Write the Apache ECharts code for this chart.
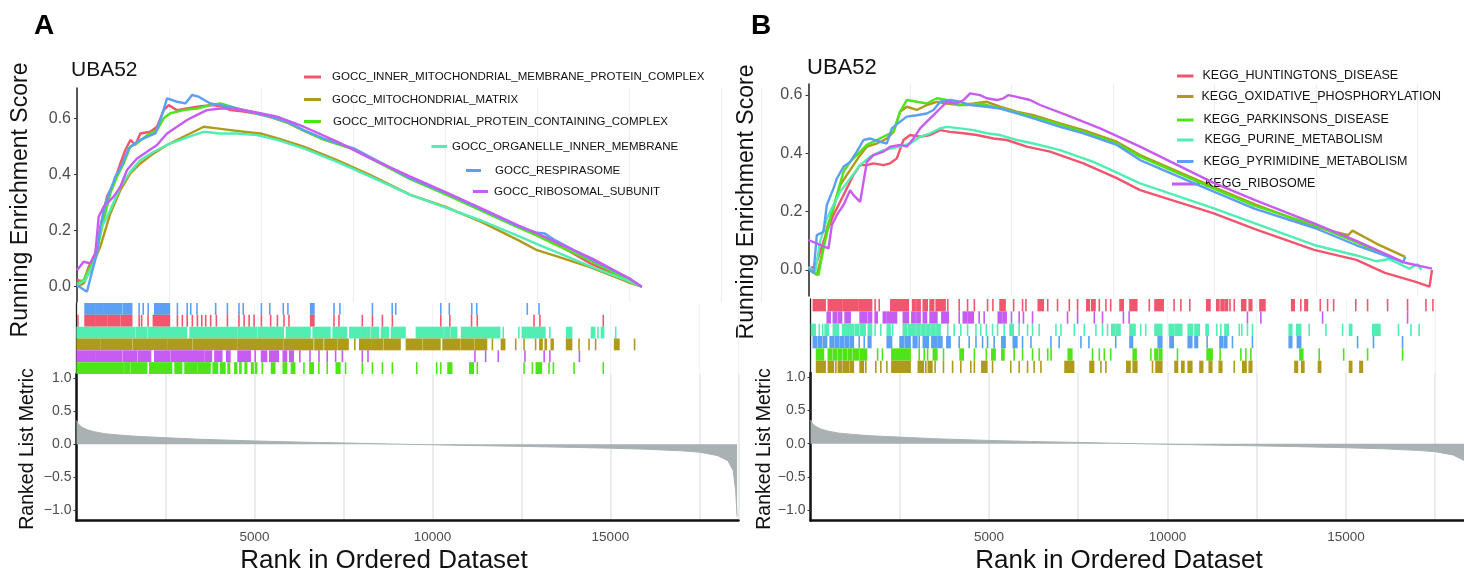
<!DOCTYPE html>
<html><head><meta charset="utf-8">
<script src="https://cdn.jsdelivr.net/npm/echarts@6.0.0/dist/echarts.min.js"></script>
<style>html,body{margin:0;padding:0;background:#fff}#c{width:1464px;height:574px}</style>
</head><body><div id="c"></div>
<script>
// ---------------- DATA ----------------
const geneCount = 18600;
const xTickValues = [5000, 10000, 15000];
const esTickValues = [0, 0.2, 0.4, 0.6];
const metricTickValues = [-1, -0.5, 0, 0.5, 1];

const namesA = ['GOCC_INNER_MITOCHONDRIAL_MEMBRANE_PROTEIN_COMPLEX','GOCC_MITOCHONDRIAL_MATRIX','GOCC_MITOCHONDRIAL_PROTEIN_CONTAINING_COMPLEX','GOCC_ORGANELLE_INNER_MEMBRANE','GOCC_RESPIRASOME','GOCC_RIBOSOMAL_SUBUNIT'];
const namesB = ['KEGG_HUNTINGTONS_DISEASE','KEGG_OXIDATIVE_PHOSPHORYLATION','KEGG_PARKINSONS_DISEASE','KEGG_PURINE_METABOLISM','KEGG_PYRIMIDINE_METABOLISM','KEGG_RIBOSOME'];

// running enrichment score, panel A
const esA_inner = [[0,0.024],[181,0.018],[317,0.071],[498,0.119],[680,0.238],[815,0.321],[996,0.368],[1178,0.439],[1314,0.487],[1450,0.523],[1586,0.505],[1721,0.546],[1993,0.552],[2174,0.570],[2356,0.629],[2491,0.647],[2718,0.629],[2990,0.635],[3262,0.641],[3624,0.647],[3896,0.644],[4168,0.629],[4530,0.624],[4892,0.616],[5255,0.604],[5708,0.585],[6161,0.556],[6704,0.525],[7520,0.490],[9060,0.384],[10000,0.332],[11000,0.272],[12000,0.212],[12500,0.185],[13000,0.155],[13937,0.084],[14500,0.05],[15000,0.025],[15346,0.0]];
const esA_matrix = [[0,0],[181,0.012],[362,0.059],[634,0.143],[906,0.261],[1178,0.344],[1450,0.404],[1721,0.439],[2084,0.475],[2446,0.505],[2809,0.529],[3171,0.552],[3443,0.570],[3805,0.564],[4168,0.558],[4530,0.552],[4983,0.546],[5436,0.529],[6161,0.499],[7067,0.451],[7973,0.398],[9060,0.327],[10000,0.285],[11000,0.23],[12000,0.165],[12500,0.13],[13000,0.11],[13937,0.07],[15000,0.015],[15346,0.0]];
const esA_protein = [[0,0.012],[181,0.024],[362,0.071],[544,0.131],[725,0.238],[906,0.333],[1087,0.392],[1268,0.439],[1450,0.499],[1631,0.511],[1903,0.540],[2174,0.558],[2356,0.600],[2537,0.618],[2899,0.629],[3262,0.635],[3624,0.647],[3896,0.653],[4349,0.635],[4892,0.618],[5255,0.605],[5708,0.586],[6161,0.556],[6704,0.524],[7520,0.489],[9060,0.383],[10000,0.33],[11000,0.27],[12000,0.21],[12500,0.182],[13000,0.15],[14000,0.09],[15000,0.022],[15346,0.0]];
const esA_organelle = [[0,0.006],[226,0.024],[453,0.083],[634,0.202],[906,0.273],[1178,0.356],[1450,0.410],[1721,0.451],[2084,0.481],[2446,0.505],[2809,0.523],[3171,0.540],[3443,0.552],[3896,0.546],[4349,0.546],[4892,0.540],[5436,0.523],[6161,0.493],[7067,0.445],[7973,0.392],[9060,0.327],[10000,0.283],[11000,0.235],[12000,0.18],[12500,0.152],[13000,0.125],[14000,0.07],[15000,0.02],[15346,0.0]];
const esA_respirasome = [[0,0.005],[270,-0.018],[408,0.053],[544,0.119],[634,0.214],[770,0.297],[906,0.344],[1042,0.392],[1223,0.433],[1404,0.493],[1631,0.517],[1903,0.534],[2129,0.546],[2265,0.594],[2446,0.671],[2718,0.659],[2945,0.653],[3126,0.683],[3307,0.677],[3624,0.653],[3896,0.647],[4168,0.641],[4530,0.629],[4892,0.618],[5255,0.606],[5708,0.588],[6161,0.558],[6704,0.528],[7520,0.493],[9060,0.386],[10000,0.335],[11000,0.275],[12000,0.215],[12500,0.192],[12700,0.19],[13000,0.165],[14000,0.095],[15000,0.03],[15346,0.0]];
const esA_ribosomal = [[0,0.059],[181,0.089],[362,0.083],[498,0.119],[589,0.249],[725,0.285],[996,0.321],[1178,0.356],[1359,0.416],[1631,0.457],[1903,0.481],[2174,0.505],[2446,0.546],[2718,0.570],[2990,0.594],[3262,0.612],[3533,0.629],[3896,0.635],[4258,0.635],[4621,0.627],[4983,0.618],[5436,0.606],[6161,0.570],[7067,0.517],[7973,0.457],[9060,0.392],[10000,0.338],[11000,0.278],[12000,0.218],[12500,0.19],[13000,0.16],[14000,0.1],[15000,0.03],[15346,0.0]];

// running enrichment score, panel B
const esB_huntington = [[0,0.006],[164,0.011],[287,0.063],[451,0.131],[616,0.189],[780,0.234],[944,0.28],[1108,0.326],[1273,0.36],[1437,0.36],[1601,0.366],[1847,0.36],[2012,0.366],[2176,0.383],[2340,0.446],[2504,0.463],[2750,0.457],[2996,0.463],[3243,0.48],[3489,0.474],[3818,0.469],[4146,0.463],[4557,0.451],[4885,0.446],[5377,0.423],[5952,0.406],[6773,0.366],[7594,0.315],[8169,0.274],[9968,0.195],[11000,0.14],[12455,0.069],[13500,0.035],[14200,-0.01],[14940,-0.04],[15300,-0.057],[15360,0.0]];
const esB_oxphos = [[0,0.006],[205,-0.017],[328,0.051],[451,0.143],[616,0.211],[780,0.291],[944,0.326],[1108,0.36],[1273,0.394],[1437,0.423],[1683,0.434],[1929,0.451],[2094,0.474],[2258,0.543],[2422,0.56],[2668,0.549],[2914,0.566],[3161,0.577],[3407,0.571],[3736,0.566],[4064,0.571],[4392,0.577],[4721,0.56],[5131,0.543],[5542,0.531],[6199,0.503],[6773,0.48],[7594,0.44],[8169,0.394],[9968,0.285],[11000,0.225],[12455,0.15],[13000,0.13],[13300,0.12],[13400,0.135],[14000,0.09],[14700,0.045]];
const esB_parkinson = [[0,0.006],[246,-0.017],[369,0.074],[534,0.177],[698,0.257],[862,0.337],[1026,0.371],[1190,0.394],[1437,0.429],[1683,0.446],[1929,0.463],[2094,0.474],[2258,0.543],[2422,0.583],[2668,0.577],[2914,0.571],[3161,0.589],[3407,0.583],[3653,0.566],[3900,0.566],[4228,0.571],[4557,0.56],[4885,0.549],[5377,0.531],[5952,0.509],[6773,0.474],[7594,0.434],[8169,0.389],[9968,0.28],[11000,0.22],[12455,0.155],[13500,0.095],[14400,0.04]];
const esB_purine = [[0,0.011],[164,-0.006],[287,0.097],[451,0.177],[616,0.223],[780,0.269],[1026,0.314],[1273,0.36],[1519,0.389],[1847,0.411],[2258,0.423],[2504,0.434],[2750,0.457],[2996,0.469],[3243,0.486],[3407,0.491],[3736,0.486],[4064,0.48],[4392,0.469],[4721,0.463],[5131,0.446],[5542,0.434],[6199,0.411],[7020,0.371],[8169,0.297],[9968,0.212],[11000,0.16],[12455,0.086],[13500,0.05],[14000,0.03],[14300,0.038],[14800,0.005],[15000,0.02],[15100,0.0]];
const esB_pyrimidine = [[0,0.006],[123,-0.011],[205,0.12],[369,0.131],[451,0.223],[616,0.28],[698,0.314],[862,0.354],[1026,0.371],[1190,0.406],[1355,0.446],[1519,0.451],[1765,0.44],[1929,0.434],[2053,0.486],[2258,0.509],[2422,0.526],[2668,0.531],[2914,0.537],[3079,0.549],[3243,0.577],[3489,0.583],[3736,0.577],[3982,0.566],[4392,0.56],[4721,0.554],[5131,0.537],[5542,0.52],[6199,0.491],[6773,0.469],[7594,0.429],[8169,0.377],[9968,0.27],[11000,0.21],[12455,0.145],[13500,0.085],[14500,0.035],[14650,0.025],[14700,0.045]];
const esB_ribosome = [[0,0.103],[493,0.074],[575,0.154],[698,0.189],[862,0.223],[1026,0.274],[1108,0.257],[1273,0.234],[1437,0.371],[1601,0.394],[1847,0.406],[2012,0.423],[2258,0.429],[2422,0.423],[2586,0.451],[2750,0.486],[2914,0.509],[3079,0.531],[3243,0.554],[3407,0.577],[3653,0.571],[3818,0.583],[3982,0.606],[4228,0.6],[4392,0.589],[4639,0.583],[4803,0.589],[4926,0.6],[5131,0.594],[5459,0.583],[5706,0.566],[6363,0.531],[7184,0.486],[8169,0.423],[9968,0.30],[11000,0.24],[12455,0.16],[13500,0.1],[14700,0.025],[15360,0.005]];

// hit positions (single ranks or [first,last] runs of dense hits), panel A
const hitsA_respirasome = [[240,520],[550,740],[770,930],[960,1100],[1130,1270],[1320,1550],1760,1875,2015,[2200,2610],2835,3110,3210,3385,3910,4240,4565,4685,5195,5430,5810,5940,[6580,6670],7235,7400,8315,8870,8970,10235,10475,11105,11245,12665,12995];
const hitsA_inner = [40,[240,520],[550,850],[890,1220],[1270,1550],1760,1830,2010,[2160,2610],2835,2975,3110,3255,3397,3520,3630,3770,3930,4240,4565,4710,4850,4990,5195,5455,5645,5830,5970,[6580,6670],7235,7375,8030,8315,8595,8875,10235,10490,11100,11260,12855,13020,14800];
const hitsA_organelle = [[20,1640],[1690,1970],[2020,3090],[3190,4500],[4540,5060],[5110,5810],[5900,6560],[6650,7120],[7210,7590],[7680,7960],[7990,8240],[8290,8480],[8570,8760],[8850,9230],[9550,10300],[10350,10490],[10540,10680],[10820,11430],[11470,11570],[11610,11710],[11750,11890],11990,12430,[12530,13160],13300,[13770,13910],[14470,14560],14650,[14750,14810],15150];
const hitsA_matrix = [[20,650],[690,1550],[1600,2530],[2570,3230],[3280,4500],[4540,5800],[5850,6640],[6700,6920],[6980,7300],[7350,7630],7820,[7960,8260],[8300,8600],[8650,9090],[9270,9700],[9750,10210],[10300,10770],[10820,11150],[11200,11520],11685,[11940,12030],12340,12575,12900,[13020,13080],[13170,13200],[13340,13390],[13770,13910],14120,14400,14585,[15120,15240],15680];
const hitsA_ribosomal = [[20,520],[550,1270],[1320,1690],[1740,2080],[2200,2610],[2660,3560],[3610,3790],[3890,4080],[4220,4310],[4540,4880],5020,[5200,5340],[5430,5530],[5570,5670],[5810,5900],[5990,6090],6275,6560,6813,7045,7280,7470,8030,8190,11195,11495,11850,12600,13140,13300,14130];
const hitsA_protein = [[20,1310],[1360,1500],[1550,1970],[2060,2670],[2770,2950],[3050,3380],[3420,3750],[3840,3960],[4050,4170],[4260,4300],[4450,4500],[4590,4620],[4740,4780],[4920,4960],[5030,5060],5220,[5480,5570],[5810,5900],[6040,6130],6390,[6560,6650],6810,7045,[7300,7400],7560,8030,8315,8595,8875,9560,10120,10235,[10440,10540],[11050,11150],11260,12575,12810,[12920,13060],13275,13400,13980,14800];

// hit positions, panel B
const hitsB_huntington = [[80,410],[500,880],[920,1330],[1370,1710],1810,1925,[2250,2740],[2860,2930],[2980,3070],[3160,3270],[3350,3450],[3520,3770],3845,4165,4400,4590,4960,5110,[5310,5450],5690,5940,6035,[6380,6520],6645,6920,7250,7480,[7740,7810],[7880,7970],8090,8275,8410,[8670,8760],[8950,9140],9490,[9650,9880],10185,10375,10625,[11100,11190],[11380,11440],[11500,11560],[11610,11680],11750,11870,[12080,12190],[12290,12360],[12590,12730],[13480,13550],13735,[13850,13920],14280,14485,14655,15275,15605,16165,16725,17240,17435];
const hitsB_ribosome = [[470,550],[640,730],[780,870],[970,1110],[1390,1570],[1620,1710],[1810,1870],[2040,2110],[2150,2410],[2600,2740],[2840,2930],[2980,3070],[3160,3250],[3350,3540],[3680,3860],4165,[4280,4380],[4420,4560],4725,4865,[5260,5360],[5400,5480],5630,5845,5965,6220,7200,7480,7950,8180,8765,8925,12240,12615,14345,16725];
const hitsB_purine = [[30,130],245,340,[410,500],[640,780],[900,970],[1010,1200],[1250,1340],[1390,1530],[1620,1710],1810,1970,[2150,2230],2300,[2600,2690],[2740,2930],[2980,3070],[3120,3210],[3260,3350],[3400,3490],[3540,3630],3845,4025,4210,4400,4635,4770,4925,5100,5240,5425,[5590,5680],5845,6080,6220,6405,6875,7015,7390,7670,7995,8180,8320,[8440,8530],[8580,8670],[8950,9090],9250,9390,[9650,9840],[10050,10160],[10210,10400],[10580,10700],[10770,10890],[11080,11140],11380,11495,[11610,11700],12010,12080,12240,12380,[13410,13480],[13620,13730],13970,14440,14905,[15100,15160],[15750,15860],[15880,15950],16470,16820,17050];
const hitsB_pyrimidine = [[80,170],[220,310],[360,450],[550,640],[690,780],[830,920],[970,1060],[1110,1200],1365,1505,[1620,1690],[2150,2270],[2510,2600],[2650,2790],[2880,2980],3045,[3160,3300],[3400,3540],[3580,3680],[3820,3910],4165,4445,4635,4820,4960,5145,[5360,5450],[5680,5780],5940,6175,6735,6965,7575,7800,8550,[8950,9020],[9740,9840],[10070,10160],[10580,10680],[10770,10840],11110,[11470,11540],[11590,11660],11820,12380,[13410,13480],[13640,13730],15325,15770,16585];
const hitsB_parkinson = [[170,360],[500,590],[640,730],[780,870],[920,1010],[1060,1150],[1200,1340],[1390,1570],1880,2015,[2280,2790],3045,3186,3280,[3440,3540],3725,[4190,4280],4590,4925,[5080,5170],[5360,5420],5705,5940,6220,6405,6645,6740,[7220,7320],7900,8090,8230,8410,[9040,9120],9535,[9650,9715],[9770,9840],10280,[11110,11170],[11190,11250],11475,12055,12195,12335,[13710,13790],14250,14935,15605,16585];
const hitsB_oxphos = [[170,410],[500,640],710,[780,870],[920,1060],[1110,1200],[1390,1480],1550,1830,1970,2140,[2280,2790],[3020,3160],3230,[3300,3400],3490,3725,3980,4210,4490,4590,[4800,4940],5100,5610,5845,6080,6265,6455,[7130,7370],[7830,7930],8135,8275,[8860,8950],[9040,9140],9580,[9680,9740],[9770,9840],[10210,10280],[10400,10460],[10580,10680],[10910,10985],[11170,11240],[11450,11520],11870,[12110,12200],[12290,12360],[13570,13640],[13760,13820],[14230,14290],[15100,15160],[15390,15460]];

// ranked list metric (same gene ranking in both panels)
const metricRank  = [0,50,150,300,500,800,1200,1700,2500,3500,5000,6500,7500,8500,9200,10000,11000,12500,14000,15000,16000,17000,17500,18000,18300,18450,18520,18560];
const metricValue = [0.36,0.31,0.26,0.22,0.19,0.16,0.14,0.12,0.10,0.075,0.05,0.03,0.02,0.008,0,-0.008,-0.018,-0.032,-0.048,-0.06,-0.075,-0.1,-0.12,-0.17,-0.25,-0.4,-0.7,-1.1];

// ---------------- CHART ----------------
const FONT = '"Liberation Sans", Arial, Helvetica, sans-serif';
const RED='#F2566E', OLIVE='#B09A1E', GREEN='#4FE31A', CYAN='#52EDB3', BLUE='#5BA0F2', PURPLE='#C75CF2';
const colorsSet = [RED, OLIVE, GREEN, CYAN, BLUE, PURPLE];
const esA = [esA_inner, esA_matrix, esA_protein, esA_organelle, esA_respirasome, esA_ribosomal];
const esB = [esB_huntington, esB_oxphos, esB_parkinson, esB_purine, esB_pyrimidine, esB_ribosome];
const rugA = [
  {hits:hitsA_respirasome, color:BLUE},{hits:hitsA_inner, color:RED},{hits:hitsA_organelle, color:CYAN},
  {hits:hitsA_matrix, color:OLIVE},{hits:hitsA_ribosomal, color:PURPLE},{hits:hitsA_protein, color:GREEN}];
const rugB = [
  {hits:hitsB_huntington, color:RED},{hits:hitsB_ribosome, color:PURPLE},{hits:hitsB_purine, color:CYAN},
  {hits:hitsB_pyrimidine, color:BLUE},{hits:hitsB_parkinson, color:GREEN},{hits:hitsB_oxphos, color:OLIVE}];
const metricData = metricRank.map((r,i)=>[r, metricValue[i]]);

function esSeries(list, names, xi, yi){
  return list.map((d,i)=>({type:'line', name:names[i], xAxisIndex:xi, yAxisIndex:yi, data:d,
    showSymbol:false, symbol:'none', z:2+i, lineStyle:{width:2.4, color:colorsSet[i]}, itemStyle:{color:colorsSet[i]}}));
}
function rugSeries(rows, xi, yi){
  const data=[];
  rows.forEach((r,i)=>r.hits.forEach(h=>{const a=Array.isArray(h)?h:[h,h]; data.push([i,a[0],a[1]]);}));
  return {type:'custom', xAxisIndex:xi, yAxisIndex:yi, silent:true, clip:true, encode:{x:[1,2], y:0}, data,
    renderItem(params, api){
      const row=api.value(0);
      const s=api.coord([api.value(1), row]);
      const e=api.coord([api.value(2), row]);
      const h=api.size([0,1])[1];
      return {type:'rect', shape:{x:s[0]-0.8, y:s[1]-h/2, width:Math.max(e[0]-s[0],0)+1.6, height:h},
        style:{fill:rows[row].color}};
    }};
}
function metricSeries(xi, yi){
  return {type:'line', xAxisIndex:xi, yAxisIndex:yi, data:metricData, showSymbol:false, symbol:'none',
    lineStyle:{width:1, color:'#A9B1B3'}, areaStyle:{color:'#A9B1B3', opacity:1}, silent:true};
}
function topX(gi){ return {gridIndex:gi, type:'value', min:0, max:geneCount, interval:2500,
  axisLine:{show:false, onZero:false}, axisTick:{show:false}, axisLabel:{show:false},
  splitLine:{show:true, lineStyle:{color:'#EDF0F1', width:1.3}}}; }
function rugX(gi){ const o=topX(gi); o.splitLine={show:true, lineStyle:{color:'#F1F3F4', width:1.3}}; return o; }
function rankX(gi){ return {gridIndex:gi, type:'value', min:0, max:geneCount, interval:2500,
  axisLine:{show:true, onZero:false, lineStyle:{color:'#111', width:2.5}}, axisTick:{show:false},
  axisLabel:{color:'#4d4d4d', fontSize:13.5, fontFamily:FONT, margin:10,
    formatter:v=>xTickValues.indexOf(v)>=0?String(v):''},
  splitLine:{show:true, lineStyle:{color:'#E3E7E8', width:1.5}}}; }
function esY(gi, min, max){ return {gridIndex:gi, type:'value', min, max,
  axisLine:{show:true, onZero:false, lineStyle:{color:'#222', width:1.5}},
  axisTick:{show:true, length:3, customValues:esTickValues, lineStyle:{color:'#333'}},
  axisLabel:{customValues:esTickValues, formatter:v=>v.toFixed(1), color:'#4d4d4d', fontSize:16, fontFamily:FONT, margin:6},
  splitLine:{show:false}}; }
function rugY(gi){ return {gridIndex:gi, type:'category', inverse:true, data:['0','1','2','3','4','5'],
  axisLine:{show:true, onZero:false, lineStyle:{color:'#222', width:1.3}}, axisTick:{show:false}, axisLabel:{show:false}, splitLine:{show:false}}; }
function rankY(gi){ return {gridIndex:gi, type:'value', min:-1.159, max:1.068,
  axisLine:{show:true, onZero:false, lineStyle:{color:'#111', width:2.5}},
  axisTick:{show:true, length:3, customValues:metricTickValues, lineStyle:{color:'#333'}},
  axisLabel:{customValues:metricTickValues, formatter:v=>(v<0?'\u2212':'')+Math.abs(v).toFixed(1), color:'#4d4d4d', fontSize:14, fontFamily:FONT, margin:5},
  splitLine:{show:false}}; }
function leg(name, left, cy, w, pad, fs){ return {data:[name], left, top:cy-8, itemWidth:w, itemHeight:3, icon:'rect',
  padding:0, selectedMode:false, textStyle:{fontSize:fs, color:'#111', fontFamily:FONT, padding:[0,0,0,pad], lineHeight:16}}; }
function txt(text, x, y, size, opts){ return Object.assign({type:'text', x, y, silent:true,
  style:{text, font:size+'px '+FONT, fill:'#111', align:'left', verticalAlign:'middle'}}, opts||{}); }
function grid(left, top, width, height){ return {left, top, width, height, containLabel:false, outerBoundsMode:'none'}; }

const option = {
  animation:false, backgroundColor:'#fff',
  grid:[
    grid(77, 88, 684.5, 214),
    grid(76.5, 303, 662, 71),
    grid(76.5, 374, 662, 146.5),
    grid(808.5, 84, 755, 212),
    grid(810.5, 299, 664, 74),
    grid(810.5, 373, 664, 147.5)
  ],
  xAxis:[topX(0), rugX(1), rankX(2), topX(3), rugX(4), rankX(5)],
  yAxis:[esY(0,-0.0545,0.708), rugY(1), rankY(2), esY(3,-0.089,0.638), rugY(4), rankY(5)],
  legend:[
    leg(namesA[0],304,77,17,6,11.5), leg(namesA[1],304,99.5,17,6,11.5), leg(namesA[2],304,121.5,17,7,11.5),
    leg(namesA[3],431.5,146.5,15.5,0,11.5), leg(namesA[4],466,170.5,15,9,11.5), leg(namesA[5],473,191.5,15,1,11.5),
    leg(namesB[0],1177,76,16.5,4,12.5), leg(namesB[1],1177,96.5,16.5,3,12.5), leg(namesB[2],1177,120,16.5,5,12.5),
    leg(namesB[3],1177,140,16.5,6,12.5), leg(namesB[4],1177,161.5,16.5,5,12.5), leg(namesB[5],1172,184,28,0,12.5)
  ],
  graphic:[
    txt('A', 34, 26, 28, {style:{text:'A', font:'bold 28px '+FONT, fill:'#000', align:'left', verticalAlign:'middle'}}),
    txt('B', 751, 26, 28, {style:{text:'B', font:'bold 28px '+FONT, fill:'#000', align:'left', verticalAlign:'middle'}}),
    txt('UBA52', 71, 70, 21),
    txt('UBA52', 807, 68, 22),
    txt('Running Enrichment Score', 21, 200, 23, {rotation:Math.PI/2, style:{text:'Running Enrichment Score', font:'23px '+FONT, fill:'#111', align:'center', verticalAlign:'middle'}}),
    txt('Running Enrichment Score', 747, 202, 23, {rotation:Math.PI/2, style:{text:'Running Enrichment Score', font:'23px '+FONT, fill:'#111', align:'center', verticalAlign:'middle'}}),
    txt('Ranked List Metric', 28, 449, 19.5, {rotation:Math.PI/2, style:{text:'Ranked List Metric', font:'19.5px '+FONT, fill:'#111', align:'center', verticalAlign:'middle'}}),
    txt('Ranked List Metric', 765, 449, 19.5, {rotation:Math.PI/2, style:{text:'Ranked List Metric', font:'19.5px '+FONT, fill:'#111', align:'center', verticalAlign:'middle'}}),
    txt('Rank in Ordered Dataset', 384, 561, 26, {style:{text:'Rank in Ordered Dataset', font:'26px '+FONT, fill:'#111', align:'center', verticalAlign:'middle'}}),
    txt('Rank in Ordered Dataset', 1119, 561, 26, {style:{text:'Rank in Ordered Dataset', font:'26px '+FONT, fill:'#111', align:'center', verticalAlign:'middle'}})
  ],
  series:[].concat(
    esSeries(esA, namesA, 0, 0),
    [rugSeries(rugA, 1, 1), metricSeries(2, 2)],
    esSeries(esB, namesB, 3, 3),
    [rugSeries(rugB, 4, 4), metricSeries(5, 5)]
  )
};
const chart = echarts.init(document.getElementById('c'), null, {renderer:'canvas'});
chart.setOption(option);
</script></body></html>
